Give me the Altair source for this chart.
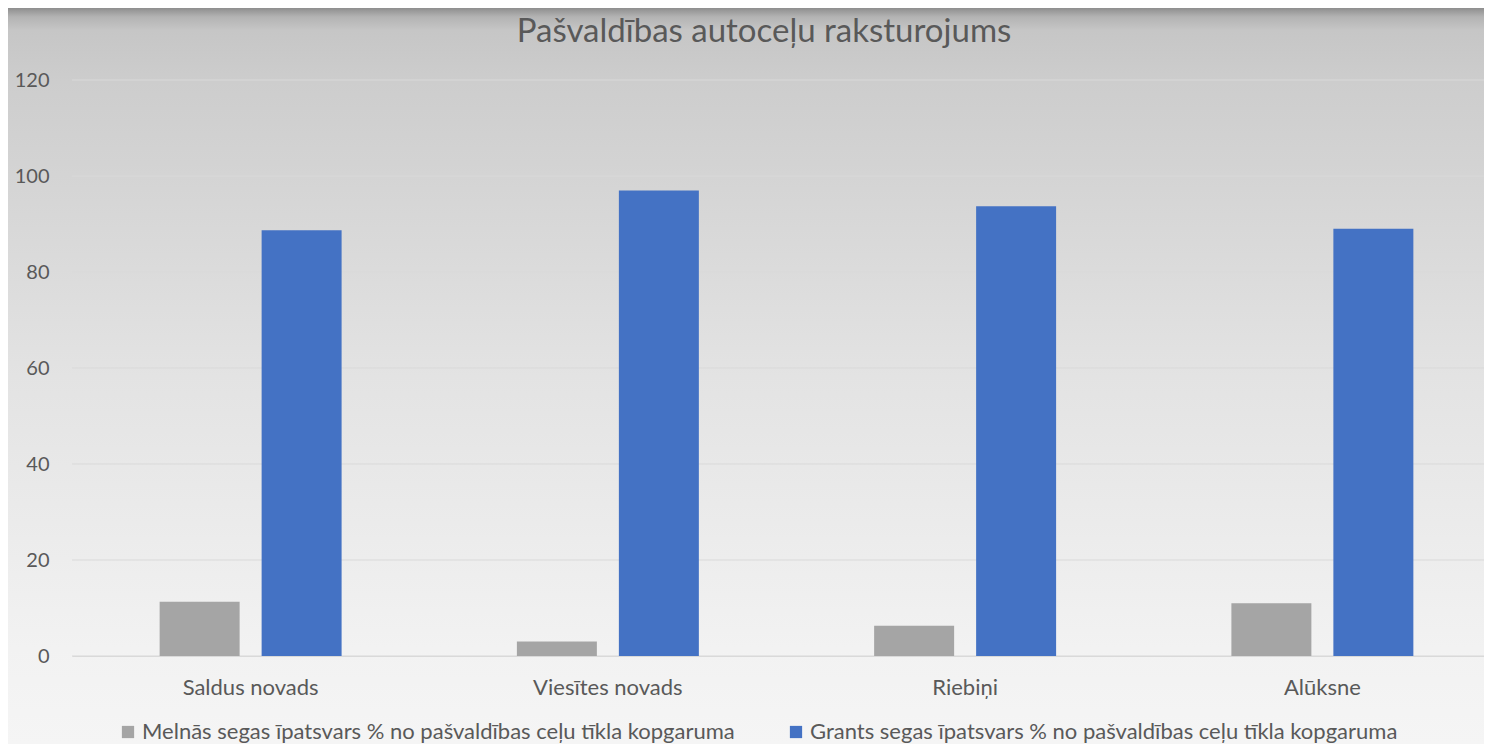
import altair as alt
import pandas as pd

categories = ["Saldus novads", "Viesītes novads", "Riebiņi", "Alūksne"]
series_names = [
    "Melnās segas īpatsvars % no pašvaldības ceļu tīkla kopgaruma",
    "Grants segas īpatsvars % no pašvaldības ceļu tīkla kopgaruma",
]
melnas = [11.3, 3.0, 6.3, 11.0]
grants = [88.7, 97.0, 93.7, 89.0]
y_ticks = [0, 20, 40, 60, 80, 100, 120]
colors = ["#a5a5a5", "#4472c4"]
title_text = "Pašvaldības autoceļu raksturojums"

rows = []
for i, c in enumerate(categories):
    rows.append({"cat": c, "series": series_names[0], "value": melnas[i]})
    rows.append({"cat": c, "series": series_names[1], "value": grants[i]})
df = pd.DataFrame(rows)
grid_df = pd.DataFrame({"value": y_ticks})

FONT = "Lato"
TXT = "#595959"
W, H = 1412, 576
PL, PT, PB, PR = 64, 72, 88, 0

bg = alt.Chart(alt.Data(values=[{}])).mark_rect(
    color=alt.Gradient(
        gradient="linear",
        stops=[
            alt.GradientStop(offset=0.0, color="#8e8e8e"),
            alt.GradientStop(offset=0.012, color="#b3b3b3"),
            alt.GradientStop(offset=0.03, color="#c6c6c6"),
            alt.GradientStop(offset=0.1, color="#cdcdcd"),
            alt.GradientStop(offset=0.5, color="#e3e3e3"),
            alt.GradientStop(offset=0.87, color="#f2f2f2"),
            alt.GradientStop(offset=1.0, color="#f5f5f5"),
        ],
        x1=0, x2=0, y1=0, y2=1,
    )
).encode(
    x=alt.value(-PL), x2=alt.value(W + 20),
    y=alt.value(-PT), y2=alt.value(H + PB),
)

grid = alt.Chart(grid_df).mark_rule(color="#d9d9d9", strokeWidth=1).encode(
    y=alt.Y("value:Q")
)

bars = alt.Chart(df).mark_bar().encode(
    x=alt.X("cat:N", sort=categories,
            scale=alt.Scale(range=[0, 1429], paddingInner=0, paddingOuter=0),
            axis=alt.Axis(title=None, labelAngle=0, ticks=False, domain=True,
                          domainColor="#d9d9d9", grid=False, labelPadding=21,
                          labelFont=FONT, labelFontSize=22, labelColor=TXT, zindex=1)),
    xOffset=alt.XOffset("series:N", sort=series_names,
                        scale=alt.Scale(paddingInner=0.2157, paddingOuter=0.8594)),
    y=alt.Y("value:Q", scale=alt.Scale(domain=[0, 120], nice=False),
            axis=alt.Axis(title=None, values=y_ticks, ticks=False, domain=False,
                          grid=False, labelPadding=23,
                          labelFont=FONT, labelFontSize=20, labelColor=TXT, zindex=1)),
    color=alt.Color("series:N", sort=series_names,
                    scale=alt.Scale(domain=series_names, range=colors),
                    legend=alt.Legend(title=None, orient="none", legendX=45, legendY=641,
                                      direction="horizontal", symbolType="square",
                                      symbolSize=150, symbolStrokeWidth=0,
                                      labelFont=FONT, labelFontSize=22, labelColor=TXT,
                                      labelOffset=3, columnPadding=50, padding=0,
                                      labelLimit=1000)),
)

chart = alt.layer(bg, grid, bars).properties(
    width=W, height=H,
    title=alt.TitleParams(title_text, font=FONT, fontSize=33, fontWeight="normal",
                          color=TXT, frame="group", anchor="middle", offset=0, dx=-14,
                          dy=67, baseline="alphabetic"),
    autosize=alt.AutoSizeParams(type="none"),
    padding={"left": PL, "top": PT, "right": PR, "bottom": PB},
).configure_view(stroke=None).configure(background="#f5f5f5")

chart.save("out.html", embed_options={"renderer": "svg", "actions": False})
